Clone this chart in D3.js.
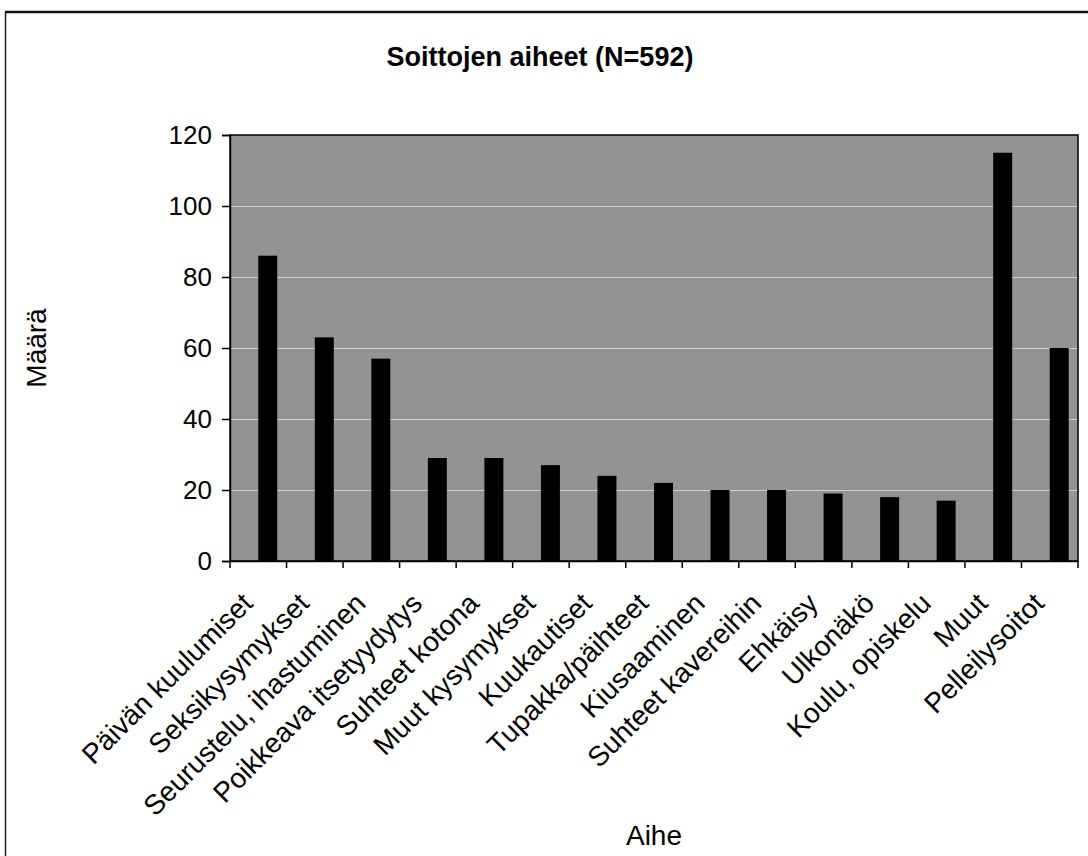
<!DOCTYPE html>
<html>
<head>
<meta charset="utf-8">
<script src="https://cdn.jsdelivr.net/npm/d3@7"></script>
<style>
  html, body { margin: 0; padding: 0; background: #ffffff; }
  svg { display: block; font-family: "Liberation Sans", Arial, sans-serif; }
</style>
</head>
<body>
<svg id="chart" width="1088" height="856"></svg>
<script>
const titleText = "Soittojen aiheet (N=592)";
const xAxisTitle = "Aihe";
const yAxisTitle = "Määrä";
const categories = [
  "Päivän kuulumiset",
  "Seksikysymykset",
  "Seurustelu, ihastuminen",
  "Poikkeava itsetyydytys",
  "Suhteet kotona",
  "Muut kysymykset",
  "Kuukautiset",
  "Tupakka/päihteet",
  "Kiusaaminen",
  "Suhteet kavereihin",
  "Ehkäisy",
  "Ulkonäkö",
  "Koulu, opiskelu",
  "Muut",
  "Pelleilysoitot"
];
const values = [86, 63, 57, 29, 29, 27, 24, 22, 20, 20, 19, 18, 17, 115, 60];
const yTicks = [0, 20, 40, 60, 80, 100, 120];

(function () {
const svg = d3.select("#chart");
const pLeft = 230, pRight = 1078, pTop = 135, pBottom = 561;

// outer frame (left and top edges visible)
svg.append("line").attr("x1", 5.5).attr("x2", 5.5).attr("y1", 12).attr("y2", 856)
  .attr("stroke", "#222").attr("stroke-width", 1.5);
svg.append("line").attr("x1", 5).attr("x2", 1088).attr("y1", 12).attr("y2", 12)
  .attr("stroke", "#111").attr("stroke-width", 2.5);

const x = d3.scaleBand().domain(categories).range([pLeft, pRight]).paddingInner(0).paddingOuter(0);
const slot = d3.scaleBand().domain([0, 1]).range([0, x.bandwidth()]).paddingInner(0).paddingOuter(0.49);
const y = d3.scaleLinear().domain([0, 120]).range([pBottom, pTop]);

// plot background
svg.append("rect")
  .attr("x", pLeft).attr("y", pTop).attr("width", pRight - pLeft).attr("height", pBottom - pTop)
  .attr("fill", "#939393");

// gridlines
svg.append("g").selectAll("line").data(yTicks.filter(t => t > 0 && t < 120)).join("line")
  .attr("x1", pLeft).attr("x2", pRight)
  .attr("y1", d => Math.round(y(d)) + 0.5).attr("y2", d => Math.round(y(d)) + 0.5)
  .attr("stroke", "#cfcfcf").attr("stroke-width", 1.2);

// bars
svg.append("g").selectAll("rect").data(categories).join("rect")
  .attr("x", (d) => x(d) + slot(1))
  .attr("y", (d, i) => y(values[i]))
  .attr("width", slot.bandwidth())
  .attr("height", (d, i) => y(0) - y(values[i]))
  .attr("fill", "#000000");

// plot border
svg.append("rect")
  .attr("x", pLeft).attr("y", pTop).attr("width", pRight - pLeft).attr("height", pBottom - pTop)
  .attr("fill", "none").attr("stroke", "#000").attr("stroke-width", 1.5);

// y axis
const yAxis = svg.append("g").attr("transform", `translate(${pLeft},0)`)
  .call(d3.axisLeft(y).tickValues(yTicks).tickSize(8).tickPadding(10).tickFormat(d3.format("d")));
yAxis.select(".domain").attr("stroke", "#000").attr("stroke-width", 1.5);
yAxis.selectAll(".tick line").attr("stroke", "#000").attr("stroke-width", 1.5);
yAxis.selectAll("text").attr("font-size", 26).attr("fill", "#000")
  .style("font-family", "'Liberation Sans', Arial, sans-serif");

// x axis (labels at category centres, ticks at category boundaries)
const xAxis = svg.append("g").attr("transform", `translate(0,${pBottom})`)
  .call(d3.axisBottom(x).tickSize(0));
xAxis.select(".domain").attr("stroke", "#000").attr("stroke-width", 1.5);
xAxis.selectAll("text")
  .attr("x", 0).attr("y", 0).attr("dy", 0)
  .attr("transform", "translate(-4,44) rotate(-45)")
  .style("text-anchor", "end")
  .attr("font-size", 28).attr("fill", "#000")
  .style("font-family", "'Liberation Sans', Arial, sans-serif");
const boundaries = categories.map(c => x(c)).concat([x.range()[1]]);
svg.append("g").selectAll("line").data(boundaries).join("line")
  .attr("x1", d => d).attr("x2", d => d)
  .attr("y1", pBottom).attr("y2", pBottom + 7)
  .attr("stroke", "#000").attr("stroke-width", 1.5);

// titles
svg.append("text").attr("x", 540).attr("y", 66).attr("text-anchor", "middle")
  .attr("font-size", 27).attr("font-weight", "bold").attr("fill", "#000").text(titleText);
svg.append("text").attr("x", (pLeft + pRight) / 2).attr("y", 845).attr("text-anchor", "middle")
  .attr("font-size", 28).attr("fill", "#000").text(xAxisTitle);
svg.append("text")
  .attr("transform", `translate(46,${(pTop + pBottom) / 2}) rotate(-90)`)
  .attr("text-anchor", "middle")
  .attr("font-size", 28).attr("fill", "#000").text(yAxisTitle);
})();
</script>
</body>
</html>
